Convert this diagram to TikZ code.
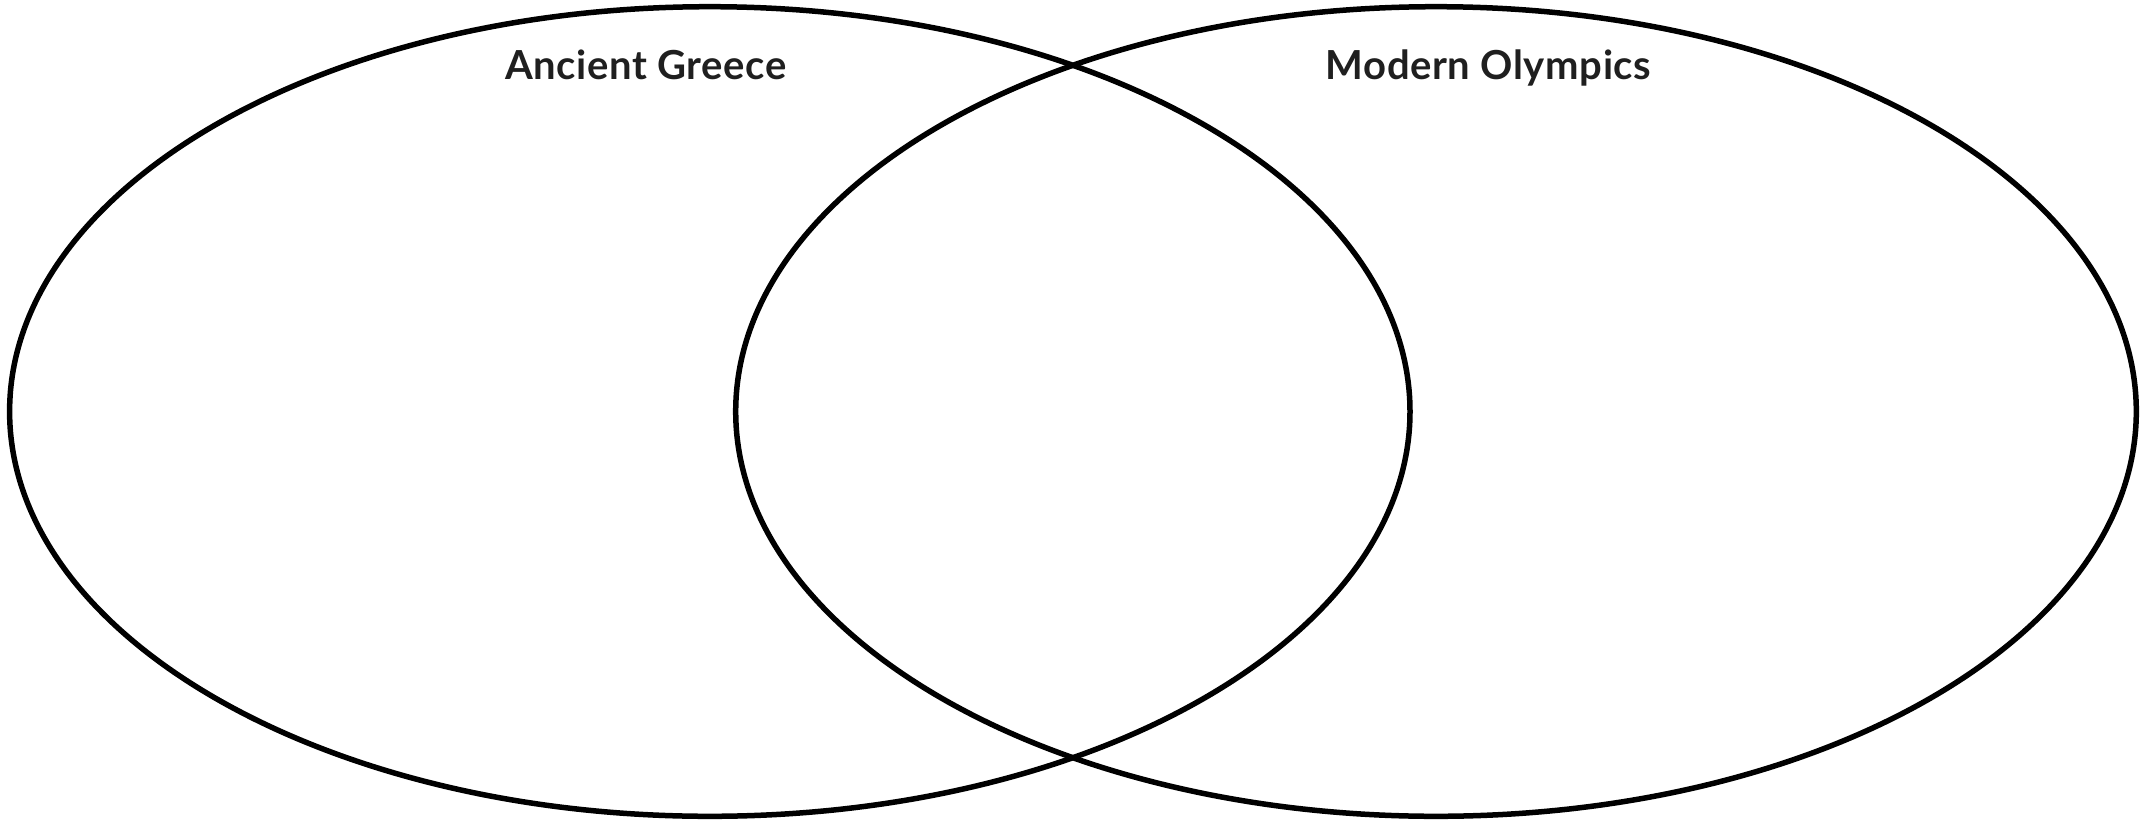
\documentclass[tikz,border=0pt]{standalone}
\usepackage{fontspec}
\setmainfont{Lato}[LetterSpace=1.5]
\begin{document}
\begin{tikzpicture}[x=1pt,y=-1pt,
  venn/.style={draw=black,line width=5.5pt},
  title/.style={anchor=base,inner sep=0pt,font=\fontsize{40}{46}\selectfont\bfseries,text=black!88}]
\useasboundingbox (0,0) rectangle (2141,822);
\draw[venn] (709.8,411.5) ellipse [x radius=700.2, y radius=404.8];
\draw[venn] (1436,411.5) ellipse [x radius=700.3, y radius=404.8];
\node[title] (ag) at (646,79) {Ancient Greece};
\node[title] (mo) at (1488.5,79) {Modern Olympics};
\end{tikzpicture}
\end{document}
